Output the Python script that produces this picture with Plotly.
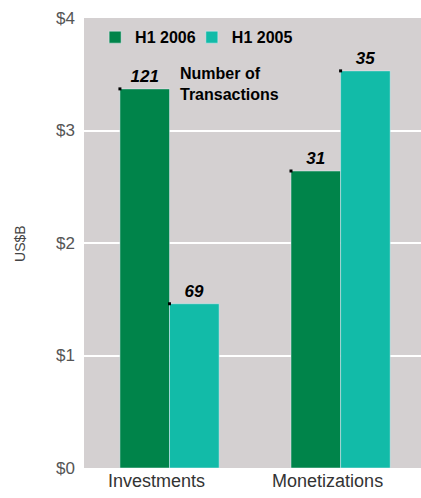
import plotly.graph_objects as go

categories = ["Investments", "Monetizations"]
h1_2006 = [3.37, 2.64]
h1_2005 = [1.46, 3.53]
count_2006 = [121, 31]
count_2005 = [69, 35]
series_names = ["H1 2006", "H1 2005"]
y_ticks = [0, 1, 2, 3, 4]
y_tick_labels = ["$0", "$1", "$2", "$3", "$4"]

GREEN = "#00844a"
TEAL = "#12bba8"
BG = "#d4d0d1"
BARGAP = 0.42
bw = (1 - BARGAP) / 2
xs = list(range(len(categories)))

fig = go.Figure()
text_font = dict(family="Liberation Sans, Arial", size=17, color="black", weight="bold", style="italic")
fig.add_trace(go.Bar(x=xs, y=h1_2006, name=series_names[0], marker_color=GREEN, legend="legend",
                     text=count_2006, textposition="outside", textfont=text_font, cliponaxis=False))
fig.add_trace(go.Bar(x=xs, y=h1_2005, name=series_names[1], marker_color=TEAL, legend="legend2",
                     text=count_2005, textposition="outside", textfont=text_font, cliponaxis=False))

# small black tick marks at top-left of bars
mx = [x - bw for x in xs] + [x for x in xs]
my = h1_2006 + h1_2005
fig.add_trace(go.Scatter(x=mx, y=my, mode="markers", showlegend=False, hoverinfo="skip",
                         marker=dict(symbol="square", size=3, color="black")))

fig.add_annotation(x=0.05, y=3.6, xref="x", yref="y", xanchor="left", yanchor="top",
                   text="Number of<br>Transactions", showarrow=False, align="left",
                   font=dict(family="Liberation Sans, Arial", size=16,
                             color="black", weight="bold"))

# y axis title
fig.add_annotation(x=-0.19, y=0.5, xref="paper", yref="paper", xanchor="center", yanchor="middle",
                   text="US$B", textangle=-90, showarrow=False,
                   font=dict(family="Liberation Sans, Arial", size=14, color="#444444"))

legend_font = dict(family="Liberation Sans, Arial", size=16, color="black", weight="bold")
fig.update_layout(
    width=421, height=498,
    margin=dict(l=84, r=0, t=18, b=30, autoexpand=False),
    plot_bgcolor=BG, paper_bgcolor="white",
    barmode="group", bargap=BARGAP, bargroupgap=0,
    showlegend=True,
    legend=dict(orientation="h", x=0.033, y=0.995, xanchor="left", yanchor="top",
                bgcolor="rgba(0,0,0,0)", font=legend_font),
    legend2=dict(orientation="h", x=0.32, y=0.995, xanchor="left", yanchor="top",
                 bgcolor="rgba(0,0,0,0)", font=legend_font),
)
fig.update_xaxes(range=[-0.5, 1.47], tickvals=xs, ticktext=categories, showgrid=False,
                 zeroline=False, showline=False, ticks="", automargin=False, ticklabelshift=-13,
                 tickfont=dict(family="Liberation Sans, Arial", size=18, color="#333333"))
fig.update_yaxes(range=[0, 4], tickvals=y_ticks, ticktext=y_tick_labels, showgrid=True, gridcolor="white",
                 gridwidth=2, zeroline=False, showline=False, ticks="", automargin=False,
                 ticklabelstandoff=8,
                 tickfont=dict(family="Liberation Sans, Arial", size=17, color="#555555"))

fig.write_html("out.html", config={"displayModeBar": False},
               post_script="document.body.style.margin='0';document.documentElement.style.overflow='hidden';")
